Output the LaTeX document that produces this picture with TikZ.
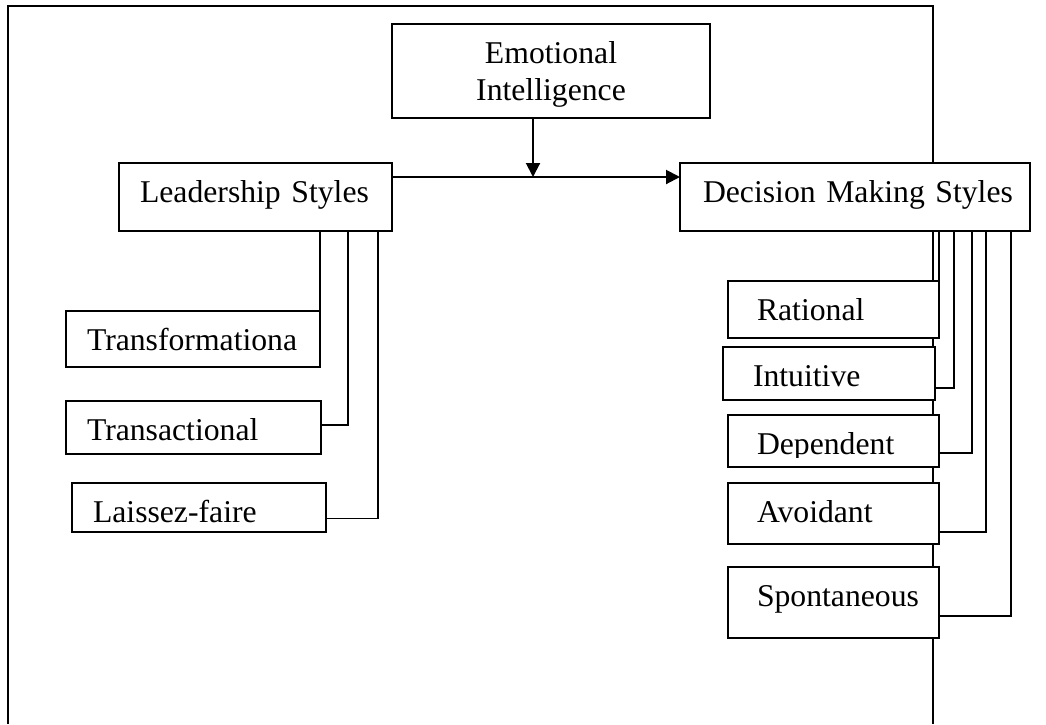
\documentclass[tikz,border=0pt]{standalone}
\usepackage{fontspec}
\setmainfont{Liberation Serif}[HyphenChar=None]
\usetikzlibrary{arrows.meta}
\newcommand\boxfont{\fontsize{31.7}{37}\selectfont}

\begin{document}
\begin{tikzpicture}[x=1pt,y=-1pt,
  frame/.style={line width=2pt},
  box/.style={draw, line width=1.8pt, fill=white, anchor=north west,
    outer sep=0pt, inner ysep=0pt, font=\boxfont, align=left,
    text height=39.5pt},
  link/.style={line width=1.3pt},
  flow/.style={line width=2pt, -{Triangle[length=14pt,width=14pt]}},
]
\useasboundingbox (0,0) rectangle (1046,724);

% open outer frame
\draw[frame] (8,724) -- (8,6) -- (933,6) -- (933,724);

% main concepts
\node[box, align=center, inner xsep=19pt, text width=280pt, text depth=54.5pt]
  (ei) at (392,24) {Emotional\\Intelligence};
\node[box, inner xsep=21pt, text width=231pt, text depth=28.5pt]
  (ls) at (119,163) {\mbox{Leadership Styles}};
\node[box, inner xsep=23pt, text width=304pt, text depth=28.5pt]
  (dm) at (680,163) {\mbox{Decision Making Styles}};

% leadership styles
\node[box, inner xsep=21pt, text width=212pt, text depth=16.5pt]
  (tf) at (66,311) {Transformationa};
\node[box, inner xsep=21pt, text width=213pt, text depth=13.5pt]
  (ta) at (66,401) {Transactional};
\node[box, inner xsep=21pt, text width=212pt, text depth=9.5pt]
  (lf) at (72,483) {Laissez-faire};

% decision making styles
\node[box, inner xsep=29pt, text width=153pt, text depth=17.5pt]
  (ra) at (728,281) {Rational};
\node[box, inner xsep=30pt, text width=152pt, text depth=13.5pt]
  (intu) at (723,347) {Intuitive};
\node[box, inner xsep=29pt, text width=153pt, text depth=12.5pt]
  (de) at (728,415) {Dependent};
\node[box, inner xsep=29pt, text width=153pt, text depth=21.5pt]
  (av) at (728,483) {Avoidant};
\node[box, inner xsep=29pt, text width=153pt, text depth=31.5pt]
  (sp) at (728,567) {Spontaneous};

% text of the Dependent box is cut off by its bottom margin
\fill[white] (729.5,457.5) rectangle (937.5,466);

% branches from Leadership Styles
\draw[link] ([xshift=-72pt]ls.south east) -- (tf.north east);
\draw[link] ([xshift=-44pt]ls.south east) |- ([yshift=2.5pt]ta.east);
\draw[link] ([xshift=-14pt]ls.south east) |- ([yshift=-11pt]lf.east);

% branches from Decision Making Styles
\draw[link] ([xshift=259pt]dm.south west) -- (ra.north east);
\draw[link] ([xshift=274pt]dm.south west) |- ([yshift=-14.5pt]intu.east);
\draw[link] ([xshift=292pt]dm.south west) |- ([yshift=-12pt]de.east);
\draw[link] ([xshift=306pt]dm.south west) |- ([yshift=-18.5pt]av.east);
\draw[link] ([xshift=331pt]dm.south west) |- ([yshift=-13.5pt]sp.east);

% main relation and moderating effect
\draw[flow] ([yshift=-14pt]ls.north east) -- ([yshift=-14pt]dm.north west);
\draw[flow] ([xshift=-18pt]ei.south) -- ([xshift=-18pt,yshift=-14pt]ei.south |- ls.north east);
\end{tikzpicture}
\end{document}
